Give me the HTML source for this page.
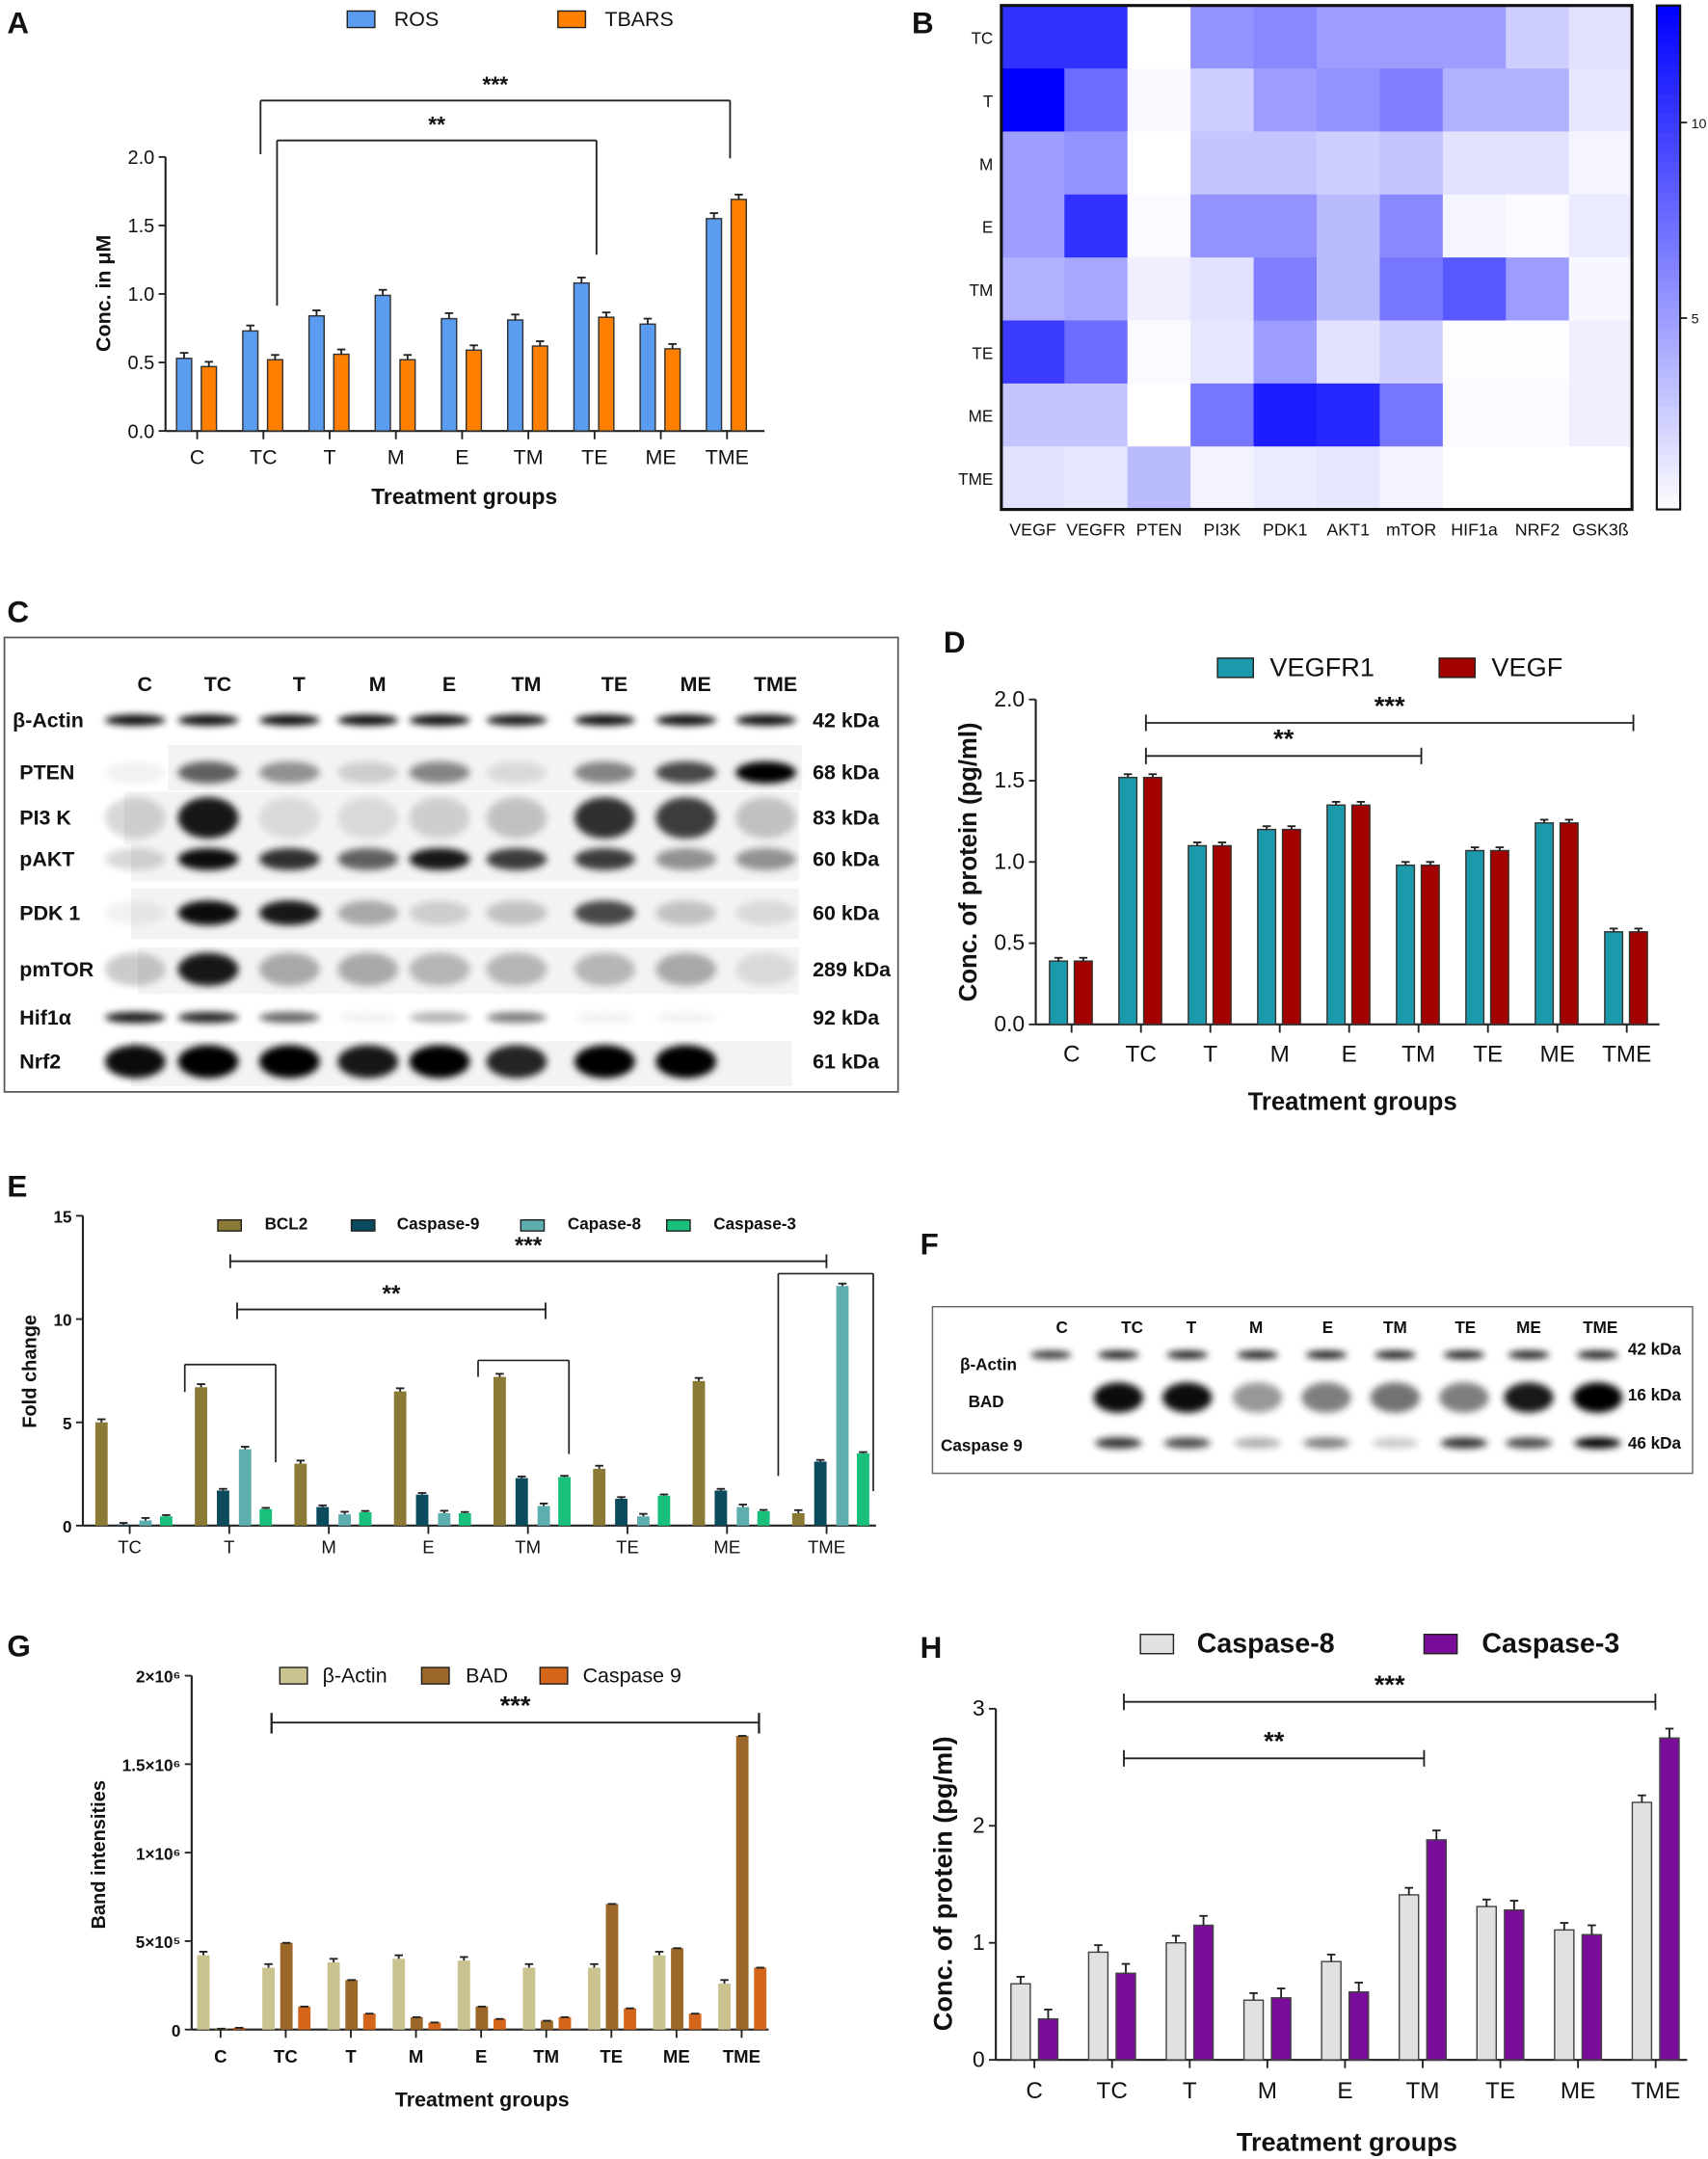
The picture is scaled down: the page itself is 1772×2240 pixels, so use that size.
<!DOCTYPE html>
<html><head><meta charset="utf-8"><style>
html,body{margin:0;padding:0;background:#fff;}
svg{display:block;font-family:"Liberation Sans",Arial,sans-serif;}
</style></head><body>
<svg id="fig" width="1772" height="2240" viewBox="0 0 1240 1568" xmlns="http://www.w3.org/2000/svg">
<defs><filter id="blur" x="-50%" y="-80%" width="200%" height="260%"><feGaussianBlur stdDeviation="2.6"/></filter></defs>
</svg>
<script>
// ---------- DATA ----------
const groups9 = ["C","TC","T","M","E","TM","TE","ME","TME"];
const groups8 = ["TC","T","M","E","TM","TE","ME","TME"];
const aROS   = [0.53,0.73,0.84,0.99,0.82,0.81,1.08,0.78,1.55];
const aTBARS = [0.47,0.52,0.56,0.52,0.59,0.62,0.83,0.60,1.69];
const aTicks = ["0.0","0.5","1.0","1.5","2.0"];
const hmRows = ["TC","T","M","E","TM","TE","ME","TME"];
const hmCols = ["VEGF","VEGFR","PTEN","PI3K","PDK1","AKT1","mTOR","HIF1a","NRF2","GSK3ß"];
const hmTC  = [10.5,10.5,0,5.5,6,5,5,5,2.5,1.5];
const hmT   = [13,7.5,0.3,2.5,5,5.5,6.5,4,4,1.2];
const hmM   = [5,5.5,0,3,3,2.5,3,1.5,1.5,0.5];
const hmE   = [5,10.5,0.2,5.5,5.5,3.5,6,0.5,0.2,1];
const hmTM  = [4,4.5,0.8,1.5,6.5,3.5,7,8.5,5,0.4];
const hmTE  = [10,7.5,0.2,1.2,5,1.5,2.5,0.1,0.1,0.8];
const hmME  = [3,3,0,7,11.5,11,7,0.2,0.2,0.8];
const hmTME = [1.5,1.3,3.5,0.6,1,1.3,0.6,0,0,0];
const dVEGFR1 = [0.39,1.52,1.10,1.20,1.35,0.98,1.07,1.24,0.57];
const dVEGF   = [0.39,1.52,1.10,1.20,1.35,0.98,1.07,1.24,0.57];
const dTicks = ["0.0","0.5","1.0","1.5","2.0"];
const eBCL2 = [5.0,6.7,3.0,6.5,7.2,2.75,7.0,0.6];
const eC9   = [0.05,1.7,0.9,1.5,2.3,1.3,1.7,3.1];
const eC8   = [0.25,3.7,0.55,0.6,0.95,0.45,0.9,11.6];
const eC3   = [0.45,0.8,0.65,0.6,2.35,1.45,0.7,3.5];
const eTicks = ["0","5","10","15"];
const gActin = [4.2,3.5,3.8,4.0,3.9,3.5,3.5,4.2,2.6];
const gBAD   = [0.05,4.9,2.8,0.7,1.3,0.5,7.1,4.6,16.6];
const gC9    = [0.1,1.3,0.9,0.4,0.6,0.7,1.2,0.9,3.5];
const gTicks = ["0","5×10⁵","1×10⁶","1.5×10⁶","2×10⁶"];
const hC8 = [0.65,0.92,1.0,0.51,0.84,1.41,1.31,1.11,2.2];
const hC3 = [0.35,0.74,1.15,0.53,0.58,1.88,1.28,1.07,2.75];
const hTicks = ["0","1","2","3"];
const cRows = ["β-Actin","PTEN","PI3 K","pAKT","PDK 1","pmTOR","Hif1α","Nrf2"];
const cKDa  = ["42 kDa","68 kDa","83 kDa","60 kDa","60 kDa","289 kDa","92 kDa","61 kDa"];
const cActin = [.95,.95,.95,.95,.95,.9,.95,.95,.95];
const cPTEN  = [.05,.6,.4,.15,.45,.1,.45,.7,1];
const cPI3K  = [.15,.9,.1,.1,.15,.2,.8,.75,.2];
const cAKT   = [.15,.95,.8,.6,.9,.75,.75,.4,.4];
const cPDK   = [.05,.95,.9,.3,.15,.2,.7,.2,.1];
const cmTOR  = [.2,.9,.3,.3,.25,.25,.25,.3,.1];
const cHIF   = [.9,.85,.6,.05,.3,.5,.05,.05,0];
const cNRF   = [.95,1,1,.9,1,.85,1,1,0];
const fActin = [.8,.9,.9,.9,.9,.9,.9,.9,.9];
const fBAD   = [0,.95,.95,.4,.5,.55,.5,.9,1];
const fC9    = [0,.8,.7,.3,.5,.2,.8,.7,1];

// ---------- HELPERS ----------
const NS="http://www.w3.org/2000/svg";
const svg=document.getElementById("fig");
function mk(tag,a,p){const e=document.createElementNS(NS,tag);for(const k in a)e.setAttribute(k,a[k]);(p||svg).appendChild(e);return e;}
function tx(x,y,s,a,p){const e=mk("text",Object.assign({x:x,y:y,"font-size":14,fill:"#111"},a||{}),p);e.textContent=s;return e;}
function grp(name){const g=mk("g",{});return g;}
function line(x1,y1,x2,y2,p,w,c){return mk("line",{x1:x1,y1:y1,x2:x2,y2:y2,stroke:c||"#222","stroke-width":w||1.3},p);}

function panelLetter(L,x,y){const t=tx(x,y,L,{"font-size":22,"font-weight":"bold"});

}

function yAxis(p,x,yFn,ticks,tickVals,fs,bold){
 const y0=yFn(tickVals[0]),y1=yFn(tickVals[tickVals.length-1]);
 line(x,y0,x,y1,p,1.5);
 ticks.forEach((t,i)=>{const y=yFn(tickVals[i]);line(x-5,y,x,y,p,1.3);
  const e=tx(x-8,y+5,t,{"text-anchor":"end","font-size":fs,"font-weight":bold?"bold":"normal"},p);
  });
}
function xAxis(p,x0,x1,y,cats,xFn,fs,bold,lblDy){
 line(x0,y,x1,y,p,1.5);
 cats.forEach((c,i)=>{const x=xFn(i);line(x,y,x,y+6,p,1.3);
  const e=tx(x,y+(lblDy||22),c,{"text-anchor":"middle","font-size":fs,"font-weight":bold?"bold":"normal"},p);
  });
}
function bars(p,vals,xFn,off,w,yFn,fill,name,err,stroke){
 vals.forEach((v,i)=>{const x=xFn(i)+off,y=yFn(v),y0=yFn(0);
  const r=mk("rect",{x:x,y:y,width:w,height:Math.max(0,y0-y),fill:fill,stroke:stroke||"none","stroke-width":stroke?1:0},p);
  
  if(err!==null){const ye=yFn(v+err);const cx=x+w/2;line(cx,y,cx,ye,p,1.3);line(cx-3,ye,cx+3,ye,p,1.3);}
 });
}
function sig(p,x1,x2,y,label,drop1,drop2,fs){
 line(x1,y,x2,y,p,1.3);
 if(drop1)line(x1,y,x1,y+drop1,p,1.3);
 if(drop2)line(x2,y,x2,y+drop2,p,1.3);
 const t=tx((x1+x2)/2,y-6,label,{"text-anchor":"middle","font-size":fs||17,"font-weight":"bold"},p);
 
}
function legendItem(p,x,y,w,h,fill,label,tx0,fs,bold,stroke){
 const r=mk("rect",{x:x,y:y,width:w,height:h,fill:fill,stroke:stroke||"#222","stroke-width":1},p);
 
 const t=tx(tx0,y+h-1,label,{"font-size":fs,"font-weight":bold?"bold":"normal"},p);
 
}
function axisTitle(p,x,y,s,fs,rot){
 const a={"text-anchor":"middle","font-size":fs,"font-weight":"bold"};
 if(rot)a.transform="rotate(-90 "+x+" "+y+")";
 const t=tx(x,y,s,a,p);
}

// ---------- PANEL A ----------
(function(){
 const g=grp('panel-a-chart');
 panelLetter("A",5,24);
 const yA=v=>313-v*99.5, xA=i=>143+i*48.1;
 yAxis(g,120,yA,aTicks,[0,0.5,1,1.5,2],14);
 xAxis(g,120,555,313,groups9,xA,15,false,24);
 bars(g,aROS,xA,-15,11,yA,"#5a9cf0","ros",0.04,"#333");
 bars(g,aTBARS,xA,3,11,yA,"#ff8000","tbars",0.035,"#333");
 legendItem(g,252,8,20,12,"#5a9cf0","ROS",286,15);
 legendItem(g,405,8,20,12,"#ff8000","TBARS",439,15);
 sig(g,189,530,73,"***",0,42,16); line(189,73,189,112,g,1.3);
 sig(g,201,433,102,"**",0,83,16); line(201,102,201,222,g,1.3);
 axisTitle(g,80,213,"Conc. in μM",15,true);
 axisTitle(g,337,366,"Treatment groups",16);
})();

// ---------- PANEL B ----------
(function(){
 const g=grp('panel-b-heatmap');
 panelLetter("B",662,24);
 const rows=[hmTC,hmT,hmM,hmE,hmTM,hmTE,hmME,hmTME];
 const X0=727,Y0=4,W=458,H=366,cw=W/10,rh=H/8,vmax=13;
 const col=v=>{const f=Math.max(0,Math.min(1,v/vmax));const c=Math.round(255*(1-f));return "rgb("+c+","+c+",255)";};
 rows.forEach((r,ri)=>{r.forEach((v,ci)=>{
  const c=mk("rect",{x:X0+ci*cw,y:Y0+ri*rh,width:cw+0.5,height:rh+0.5,fill:col(v)},g);
  });
  const t=tx(X0-6,Y0+ri*rh+rh/2+5,hmRows[ri],{"text-anchor":"end","font-size":12},g);
  });
 hmCols.forEach((c,ci)=>{const t=tx(X0+ci*cw+cw/2,389,c,{"text-anchor":"middle","font-size":12.5},g);
  });
 mk("rect",{x:X0,y:Y0,width:W,height:H,fill:"none",stroke:"#111","stroke-width":2.2},g);
 // colorbar
 const cb=grp('colorbar');
 const cbY=v=>373-v*28.4;
 for(let v=0;v<vmax;v+=0.25){mk("rect",{x:1203,y:cbY(v+0.25),width:17,height:0.25*28.4+0.6,fill:col(v+0.125)},cb);}
 mk("rect",{x:1203,y:4,width:17,height:366,fill:"none",stroke:"#111","stroke-width":1.5},cb);
 [5,10].forEach(v=>{line(1220,cbY(v),1225,cbY(v),cb,1.3);tx(1228,cbY(v)+4,String(v),{"font-size":10},cb);});
})();

// ---------- BLOT HELPER ----------
function band(p,x,y,rx,ry,int){if(int<=0.02)return;
 const e=mk("ellipse",{cx:x,cy:y,rx:rx,ry:ry,fill:"#000",opacity:int,filter:"url(#blur)"},p);
 }

// ---------- PANEL C ----------
(function(){
 const g=grp('panel-c-western-blot');
 panelLetter("C",5,452);
 mk("rect",{x:3,y:463,width:649,height:330,fill:"#fff",stroke:"#555","stroke-width":1.2},g);
 const lanes=[105,158,217,274,326,382,446,505,563];
 const laneNames=["C","TC","T","M","E","TM","TE","ME","TME"];
 lanes.forEach((x,i)=>{tx(x,502,laneNames[i],{"text-anchor":"middle","font-size":15,"font-weight":"bold"},g);});
 const rowY=[523,561,594,624,663,704,739,771];
 const data=[cActin,cPTEN,cPI3K,cAKT,cPDK,cmTOR,cHIF,cNRF];
 const ry=[4,8,15,8,9,12,4,12];
 const bg=[[0,0,0],[122,541,460,33],[90,575,490,38],[95,609,485,31],[95,645,485,37],[100,688,480,34],[0,0,0],[95,756,480,33]];
 bg.forEach(b=>{if(b[2])mk("rect",{x:b[0],y:b[1],width:b[2],height:b[3],fill:"#f3f3f3"},g);});
 rowY.forEach((y,ri)=>{
  const t=tx(ri==0?9:14,y+5,cRows[ri],{"font-size":15,"font-weight":"bold"},g);
  
  const k=tx(590,y+5,cKDa[ri],{"font-size":15,"font-weight":"bold"},g);
  
  data[ri].forEach((v,li)=>band(g,lanes[li]-7,y,22,ry[ri],v));
 });
})();

// ---------- PANEL D ----------
(function(){
 const g=grp('panel-d-chart');
 panelLetter("D",685,474);
 const yD=v=>744-v*118, xD=i=>778+i*50.4;
 yAxis(g,752,yD,dTicks,[0,0.5,1,1.5,2],16);
 xAxis(g,752,1205,744,groups9,xD,17,false,27);
 bars(g,dVEGFR1,xD,-16,13,yD,"#1b9aab","vegfr1",0.02,"#333");
 bars(g,dVEGF,xD,2,13,yD,"#a30000","vegf",0.02,"#333");
 legendItem(g,884,478,26,14,"#1b9aab","VEGFR1",922,19);
 legendItem(g,1045,478,26,14,"#a30000","VEGF",1083,19);
 sig(g,832,1186,525,"***",0,0,19);line(832,519,832,531,g);line(1186,519,1186,531,g);
 sig(g,832,1032,549,"**",0,0,19);line(832,543,832,555,g);line(1032,543,1032,555,g);
 axisTitle(g,709,626,"Conc. of protein (pg/ml)",18,true);
 axisTitle(g,982,806,"Treatment groups",18);
})();

// ---------- PANEL E ----------
(function(){
 const g=grp('panel-e-chart');
 panelLetter("E",5,869);
 const yE=v=>1108-v*15, xE=i=>94+i*72.3;
 yAxis(g,60,yE,eTicks,[0,5,10,15],12,true);
 xAxis(g,60,636,1108,groups8,xE,13,false,20);
 bars(g,eBCL2,xE,-25,9,yE,"#8b7a35","bcl2",0.15,null);
 bars(g,eC9,xE,-9,9,yE,"#0c4a5e","caspase-9",0.08,null);
 bars(g,eC8,xE,7,9,yE,"#5eaeb0","caspase-8",0.12,null);
 bars(g,eC3,xE,22,9,yE,"#18c07c","caspase-3",0.06,null);
 legendItem(g,158,886,17,8,"#8b7a35","BCL2",192,12,true);
 legendItem(g,255,886,17,8,"#0c4a5e","Caspase-9",288,12,true);
 legendItem(g,378,886,17,8,"#5eaeb0","Capase-8",412,12,true);
 legendItem(g,484,886,17,8,"#18c07c","Caspase-3",518,12,true);
 sig(g,167,600,916,"***",0,0,17);line(167,911,167,921,g);line(600,911,600,921,g);
 sig(g,172,396,951,"**",0,0,17);line(172,946,172,958,g);line(396,946,396,958,g);
 const br=[[134,991,200,1062,1011],[347,988,413,1056,1000],[565,925,634,1083,1072]];
 br.forEach(b=>{line(b[0],b[1],b[2],b[1],g,1.2);line(b[0],b[1],b[0],b[4]-(b[0]==565?0:0),g,1.2);line(b[2],b[1],b[2],b[3],g,1.2);});
 axisTitle(g,26,996,"Fold change",14,true);
})();

// ---------- PANEL F ----------
(function(){
 const g=grp('panel-f-western-blot');
 panelLetter("F",668,911);
 mk("rect",{x:677,y:949,width:552,height:121,fill:"#fff",stroke:"#666","stroke-width":1},g);
 const lanes=[763,812,862,913,963,1013,1063,1110,1160];
 const labX=[771,822,865,912,964,1013,1064,1110,1162];
 labX.forEach((x,i)=>tx(x,968,groups9[i],{"text-anchor":"middle","font-size":12,"font-weight":"bold"},g));
 const rl=[["β-Actin",697,995],["BAD",703,1022],["Caspase 9",683,1054]];
 rl.forEach(r=>{const t=tx(r[1],r[2],r[0],{"font-size":12,"font-weight":"bold"},g);});
 [["42 kDa",984],["16 kDa",1017],["46 kDa",1052]].forEach(k=>tx(1182,k[1],k[0],{"font-size":12,"font-weight":"bold"},g));
 fActin.forEach((v,i)=>band(g,lanes[i],984,15,3,v));
 fBAD.forEach((v,i)=>band(g,lanes[i],1015,18,11,v));
 fC9.forEach((v,i)=>band(g,lanes[i],1048,17,4,v));
})();

// ---------- PANEL G ----------
(function(){
 const g=grp('panel-g-chart');
 panelLetter("G",5,1203);
 const yG=v=>1474-v*12.85, xG=i=>160+i*47.3;
 yAxis(g,139,yG,gTicks,[0,5,10,15,20],12,true);
 xAxis(g,139,558,1474,groups9,xG,13,true,24);
 bars(g,gActin,xG,-17,9,yG,"#cbc38f","beta-actin",0.2,null);
 bars(g,gBAD,xG,-4,9,yG,"#9b682a","bad",0,null);
 bars(g,gC9,xG,9,9,yG,"#d3661b","caspase-9",0,null);
 legendItem(g,203,1211,20,12,"#cbc38f","β-Actin",234,15);
 legendItem(g,306,1211,20,12,"#9b682a","BAD",338,15);
 legendItem(g,392,1211,20,12,"#d3661b","Caspase 9",423,15);
 sig(g,197,551,1251,"***",0,0,19);line(197,1244,197,1259,g,1.6);line(551,1244,551,1259,g,1.6);
 axisTitle(g,76,1347,"Band intensities",14,true);
 axisTitle(g,350,1530,"Treatment groups",15);
})();

// ---------- PANEL H ----------
(function(){
 const g=grp('panel-h-chart');
 panelLetter("H",668,1204);
 const yH=v=>1496-v*85, xH=i=>751+i*56.4;
 yAxis(g,723,yH,hTicks,[0,1,2,3],16);
 xAxis(g,723,1225,1496,groups9,xH,17,false,28);
 bars(g,hC8,xH,-17,14,yH,"#e1e1e1","caspase-8",0.06,"#444");
 bars(g,hC3,xH,3,14,yH,"#790c98","caspase-3",0.08,"#444");
 legendItem(g,828,1187,24,14,"#e1e1e1","Caspase-8",869,20,true);
 legendItem(g,1034,1187,24,14,"#790c98","Caspase-3",1076,20,true);
 sig(g,816,1202,1236,"***",0,0,19);line(816,1230,816,1242,g);line(1202,1230,1202,1242,g);
 sig(g,816,1034,1277,"**",0,0,19);line(816,1271,816,1283,g);line(1034,1271,1034,1283,g);
 axisTitle(g,691,1368,"Conc. of protein (pg/ml)",19,true);
 axisTitle(g,978,1562,"Treatment groups",19);
})();
</script>
</body></html>
